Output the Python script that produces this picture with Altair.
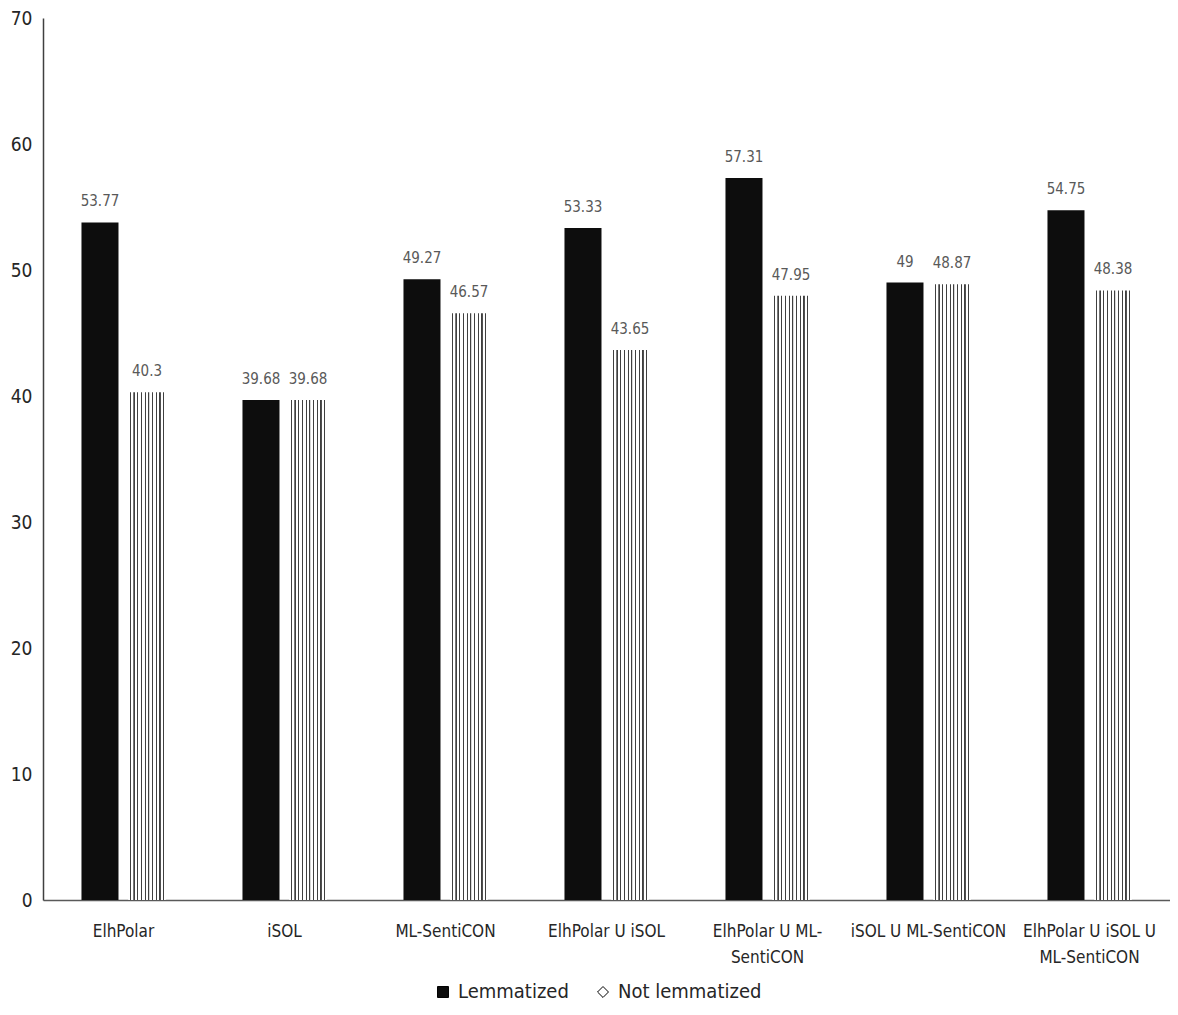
import json
import altair as alt
import pandas as pd

# ---- data ----
categories = [
    "ElhPolar",
    "iSOL",
    "ML-SentiCON",
    "ElhPolar U iSOL",
    "ElhPolar U ML-SentiCON",
    "iSOL U ML-SentiCON",
    "ElhPolar U iSOL U ML-SentiCON",
]
tick_label_lines = [
    ["ElhPolar"],
    ["iSOL"],
    ["ML-SentiCON"],
    ["ElhPolar U iSOL"],
    ["ElhPolar U ML-", "SentiCON"],
    ["iSOL U ML-SentiCON"],
    ["ElhPolar U iSOL U", "ML-SentiCON"],
]
series = ["Lemmatized", "Not lemmatized"]
lemmatized = [53.77, 39.68, 49.27, 53.33, 57.31, 49, 54.75]
not_lemmatized = [40.3, 39.68, 46.57, 43.65, 47.95, 48.87, 48.38]
value_labels_lem = ["53.77", "39.68", "49.27", "53.33", "57.31", "49", "54.75"]
value_labels_not = ["40.3", "39.68", "46.57", "43.65", "47.95", "48.87", "48.38"]
y_ticks = [0, 10, 20, 30, 40, 50, 60, 70]

rows = []
for c, v, t in zip(categories, lemmatized, value_labels_lem):
    rows.append({"category": c, "series": series[0], "value": v, "label": t})
for c, v, t in zip(categories, not_lemmatized, value_labels_not):
    rows.append({"category": c, "series": series[1], "value": v, "label": t})
df = pd.DataFrame(rows)

FONT = "DejaVu Sans Condensed, Liberation Sans Narrow, sans-serif"

# label expression for wrapped category names
expr = "datum.label"
for c, lines in zip(categories, tick_label_lines):
    expr = f"datum.label == {json.dumps(c)} ? {json.dumps(lines)} : ({expr})"

# crosshatch-like texture approximated with a striped gradient
stops = []
period = 0.1
half = 0.014
k = 0
while k * period < 1.0 - 1e-9:
    c = k * period + period / 2
    stops += [
        {"offset": round(c - half - 0.004, 4), "color": "white"},
        {"offset": round(c - half, 4), "color": "#404040"},
        {"offset": round(c + half, 4), "color": "#404040"},
        {"offset": round(c + half + 0.004, 4), "color": "white"},
    ]
    k += 1
stops = [{"offset": 0, "color": "white"}] + stops + [{"offset": 1, "color": "white"}]
hatch = {"gradient": "linear", "x1": 0, "y1": 0, "x2": 1, "y2": 0, "stops": stops}

x_enc = alt.X(
    "category:N",
    sort=categories,
    scale=alt.Scale(paddingInner=0.478, paddingOuter=0.239),
    axis=alt.Axis(
        title=None,
        labelAngle=0,
        labelFont=FONT,
        labelFontSize=17,
        labelColor="#262626",
        labelPadding=23,
        labelLineHeight=26,
        labelBaseline="top",
        labelExpr=expr,
        ticks=False,
        grid=False,
        domainColor="#595959",
        domainWidth=1.5,
        labelLimit=300,
    ),
)
xoff = alt.XOffset("series:N", sort=series, scale=alt.Scale(paddingInner=0.213, paddingOuter=0))
y_enc = alt.Y(
    "value:Q",
    scale=alt.Scale(domain=[0, 70], nice=False),
    axis=alt.Axis(
        title=None,
        values=y_ticks,
        grid=False,
        ticks=False,
        labelFont=FONT,
        labelFontSize=19,
        labelColor="#262626",
        labelPadding=11,
        domainColor="#404040",
        domainWidth=1.5,
    ),
)

base = alt.Chart(df)

bars = base.mark_bar().encode(
    x=x_enc,
    xOffset=xoff,
    y=y_enc,
    fill=alt.Fill(
        "series:N",
        sort=series,
        scale=alt.Scale(domain=series, range=["#0d0d0d", "white"]),
        legend=alt.Legend(
            title=None,
            orient="none",
            direction="horizontal",
            legendX=390,
            legendY=964,
            labelFont=FONT,
            labelFontSize=20,
            labelColor="#262626",
            labelLimit=400,
            symbolType=alt.ExprRef("datum.value == 'Lemmatized' ? 'square' : 'diamond'"),
            symbolStrokeColor="black",
            symbolStrokeWidth=1,
            symbolSize=120,
            columnPadding=24,
            labelOffset=5,
        ),
    ),
)

hatch_bars = (
    base.transform_filter(alt.datum.series == series[1])
    .mark_bar(fill=hatch)
    .encode(x=x_enc, xOffset=xoff, y=y_enc)
)

labels = base.mark_text(
    baseline="bottom", dy=-13, font=FONT, fontSize=15, color="#595959"
).encode(x=x_enc, xOffset=xoff, y=y_enc, text="label:N")

chart = (
    alt.layer(bars, hatch_bars, labels)
    .properties(
        width=1127,
        height=882,
        background="white",
        autosize=alt.AutoSizeParams(type="none"),
        padding={"left": 35, "top": 10, "right": 0, "bottom": 104},
    )
    .configure_view(strokeWidth=0, stroke="transparent")
)

chart.save("out.html", embed_options={"renderer": "svg", "actions": False})
